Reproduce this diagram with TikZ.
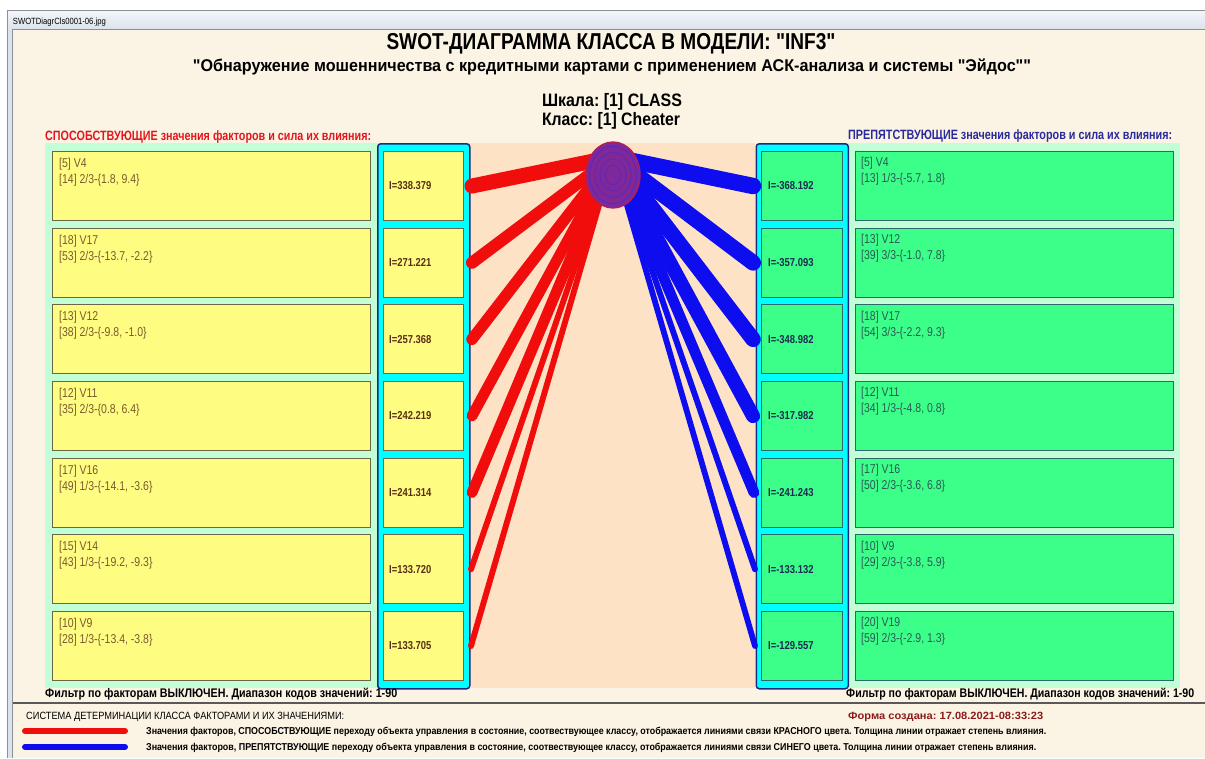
\documentclass[tikz,border=0pt]{standalone}
\usepackage{fontspec}
\setmainfont{Liberation Sans}
\newfontfamily\nar[FakeStretch=0.82]{Liberation Sans}
\usetikzlibrary{shapes.geometric}
\frenchspacing
\definecolor{cream}{HTML}{FBF4E4}
\definecolor{mint}{HTML}{C2FFD6}
\definecolor{peach}{HTML}{FDE2C6}
\definecolor{ylw}{HTML}{FFFC82}
\definecolor{grn}{HTML}{3CFF8A}
\definecolor{cyanc}{HTML}{00FFFF}
\definecolor{navy}{HTML}{1A2A7A}
\definecolor{ybord}{HTML}{6E6446}
\definecolor{gbord}{HTML}{2A6A6A}
\definecolor{ytext}{HTML}{7A5A2E}
\definecolor{yval}{HTML}{5A2E14}
\definecolor{gtext}{HTML}{2A5A54}
\definecolor{gval}{HTML}{1A2A50}
\definecolor{redl}{HTML}{F20D0D}
\definecolor{bluel}{HTML}{0D0DF0}
\definecolor{lblred}{HTML}{E3161E}
\definecolor{lblblue}{HTML}{2A2A9C}
\definecolor{formred}{HTML}{8C1C1C}
\definecolor{ellfill}{HTML}{7A2AA0}
\definecolor{ellbord}{HTML}{B01E5A}
\definecolor{tbtop}{HTML}{F4F6FA}
\definecolor{tbbot}{HTML}{DCE3EC}
\definecolor{frm}{HTML}{8A9098}
\newcommand\fw[2]{\resizebox{#1pt}{\height}{#2}}
\tikzset{
  ybox/.style={draw=ybord, fill=ylw, line width=1, minimum width=318, minimum height=69, anchor=north west, inner sep=0},
  yv/.style={draw=ybord, fill=ylw, line width=1, minimum width=80, minimum height=69, anchor=north west, inner sep=0},
  gbox/.style={draw=gbord, fill=grn, line width=1, minimum width=318, minimum height=69, anchor=north west, inner sep=0},
  gv/.style={draw=gbord, fill=grn, line width=1, minimum width=81, minimum height=69, anchor=north west, inner sep=0},
  colbox/.style={draw=navy, fill=cyanc, line width=1.5, rounded corners=3, anchor=north west, minimum width=92, minimum height=545, inner sep=0},
  ltx/.style={anchor=base west, inner sep=0, text=ytext, font=\nar\fontsize{12.8}{15}\selectfont},
  rtx/.style={anchor=base west, inner sep=0, text=gtext, font=\nar\fontsize{12.8}{15}\selectfont},
  lval/.style={anchor=west, inner sep=0, text=yval, font=\nar\bfseries\fontsize{11.5}{14}\selectfont},
  rval/.style={anchor=west, inner sep=0, text=gval, font=\nar\bfseries\fontsize{11.5}{14}\selectfont},
  rline/.style={draw=redl, line cap=round},
  bline/.style={draw=bluel, line cap=round},
  plain/.style={inner sep=0, anchor=base west},
}
\newcommand\lrow[5]{%
  \node[ybox] (lb#1) at (52,#2) {};
  \node[ltx] (lta#1) at ([xshift=7,yshift=-16.3]lb#1.north west) {#3};
  \node[ltx] (ltb#1) at ([xshift=7,yshift=-32.3]lb#1.north west) {#4};
  \node[yv] (lv#1) at (383,#2) {};
  \node[lval] (lvt#1) at ([xshift=6]lv#1.west) {I=#5};
}
\newcommand\rrow[5]{%
  \node[gv] (rv#1) at (761,#2) {};
  \node[rval] (rvt#1) at ([xshift=7]rv#1.west) {I=#5};
  \node[gbox] (rb#1) at (855,#2) {};
  \node[rtx] (rta#1) at ([xshift=6,yshift=-15.7]rb#1.north west) {#3};
  \node[rtx] (rtb#1) at ([xshift=6,yshift=-31.7]rb#1.north west) {#4};
}
\begin{document}
\begin{tikzpicture}[x=1pt,y=-1pt]
\useasboundingbox (0,0) rectangle (1205,758);
\fill[white] (0,0) rectangle (1205,758);
% window
\fill[cream] (7,29) rectangle (1205,758);
\shade[top color=tbtop, bottom color=tbbot] (7,10) rectangle (1205,29);
\draw[frm, line width=0.8] (7,10.4) -- (1205,10.4);
\draw[frm, line width=0.8] (7,29) -- (1205,29);
\fill[tbbot] (7,29) rectangle (12.5,758);
\draw[frm, line width=1] (7.5,10) -- (7.5,758);
\draw[frm, line width=1] (12.5,29) -- (12.5,758);
\node[plain, font=\fontsize{9}{11}\selectfont] (wtitle) at (12.7,24) {\fw{93}{SWOTDiagrCls0001-06.jpg}};
% header
\node[inner sep=0, anchor=base, font=\nar\bfseries\fontsize{23}{26}\selectfont] (title) at (611,49.3) {\fw{449}{SWOT-ДИАГРАММА КЛАССА В МОДЕЛИ: "INF3"}};
\node[inner sep=0, anchor=base, font=\nar\bfseries\fontsize{17}{20}\selectfont] (subtitle) at (612,71.7) {\fw{838}{"Обнаружение мошенничества с кредитными картами с применением АСК-анализа и системы "Эйдос""}};
\node[inner sep=0, anchor=base, font=\nar\bfseries\fontsize{18}{20}\selectfont] (scale) at (612,106.5) {\fw{140}{Шкала: [1] CLASS}};
\node[inner sep=0, anchor=base, font=\nar\bfseries\fontsize{18}{20}\selectfont] (cls) at (611,125) {\fw{138}{Класс: [1] Cheater}};
\node[plain, text=lblred, font=\nar\bfseries\fontsize{13.5}{16}\selectfont] (lhead) at (45,140.5) {\fw{326}{СПОСОБСТВУЮЩИЕ значения факторов и сила их влияния:}};
\node[plain, text=lblblue, font=\nar\bfseries\fontsize{13.5}{16}\selectfont] (rhead) at (848,139.5) {\fw{324}{ПРЕПЯТСТВУЮЩИЕ значения факторов и сила их влияния:}};
% panels
\fill[mint] (45,143) rectangle (378,688);
\fill[mint] (848,143) rectangle (1180,688);
\fill[peach] (469,143) rectangle (755,688);
\node[colbox] (lcol) at (377,143) {};
\node[colbox] (rcol) at (755.5,143) {};
% rows
\lrow{1}{151}{[5] V4}{[14] 2/3-\{1.8, 9.4\}}{338.379}
\lrow{2}{227.7}{[18] V17}{[53] 2/3-\{-13.7, -2.2\}}{271.221}
\lrow{3}{304.3}{[13] V12}{[38] 2/3-\{-9.8, -1.0\}}{257.368}
\lrow{4}{381}{[12] V11}{[35] 2/3-\{0.8, 6.4\}}{242.219}
\lrow{5}{457.7}{[17] V16}{[49] 1/3-\{-14.1, -3.6\}}{241.314}
\lrow{6}{534.3}{[15] V14}{[43] 1/3-\{-19.2, -9.3\}}{133.720}
\lrow{7}{611}{[10] V9}{[28] 1/3-\{-13.4, -3.8\}}{133.705}
\rrow{1}{151}{[5] V4}{[13] 1/3-\{-5.7, 1.8\}}{-368.192}
\rrow{2}{227.7}{[13] V12}{[39] 3/3-\{-1.0, 7.8\}}{-357.093}
\rrow{3}{304.3}{[18] V17}{[54] 3/3-\{-2.2, 9.3\}}{-348.982}
\rrow{4}{381}{[12] V11}{[34] 1/3-\{-4.8, 0.8\}}{-317.982}
\rrow{5}{457.7}{[17] V16}{[50] 2/3-\{-3.6, 6.8\}}{-241.243}
\rrow{6}{534.3}{[10] V9}{[29] 2/3-\{-3.8, 5.9\}}{-133.132}
\rrow{7}{611}{[20] V19}{[59] 2/3-\{-2.9, 1.3\}}{-129.557}
% connectors
\coordinate (hub) at (613,157);
\draw[rline, line width=15.0] (hub) -- ([xshift=8]lv1.east);
\draw[rline, line width=12.1] (hub) -- ([xshift=8]lv2.east);
\draw[rline, line width=11.4] (hub) -- ([xshift=8]lv3.east);
\draw[rline, line width=10.8] (hub) -- ([xshift=8]lv4.east);
\draw[rline, line width=10.7] (hub) -- ([xshift=8]lv5.east);
\draw[rline, line width=5.9] (hub) -- ([xshift=7]lv6.east);
\draw[rline, line width=5.9] (hub) -- ([xshift=7]lv7.east);
\draw[bline, line width=16.4] (hub) -- ([xshift=-8]rv1.west);
\draw[bline, line width=15.9] (hub) -- ([xshift=-8]rv2.west);
\draw[bline, line width=15.5] (hub) -- ([xshift=-8]rv3.west);
\draw[bline, line width=14.1] (hub) -- ([xshift=-8]rv4.west);
\draw[bline, line width=10.7] (hub) -- ([xshift=-7]rv5.west);
\draw[bline, line width=5.9] (hub) -- ([xshift=-6]rv6.west);
\draw[bline, line width=5.8] (hub) -- ([xshift=-6]rv7.west);
% class ellipse
\node[ellipse, draw=ellbord, fill=ellfill, line width=1.4, minimum width=54, minimum height=66, inner sep=0] (E) at (613,175) {};
\foreach \k/\c in {0.9/bluel,0.8/redl,0.7/bluel,0.6/redl,0.5/bluel,0.4/redl,0.3/bluel,0.2/redl}
  \draw[\c, opacity=0.25, line width=0.6] (E.center) ellipse [x radius=26*\k, y radius=32*\k];
% filters
\node[plain, font=\nar\bfseries\fontsize{12.5}{15}\selectfont] (lfilt) at (45,697.5) {\fw{352}{Фильтр по факторам ВЫКЛЮЧЕН. Диапазон кодов значений: 1-90}};
\node[plain, font=\nar\bfseries\fontsize{12.5}{15}\selectfont] (rfilt) at (846,697.5) {\fw{348}{Фильтр по факторам ВЫКЛЮЧЕН. Диапазон кодов значений: 1-90}};
\draw[black!65, line width=1.2] (12.5,703) -- (1205,703);
% footer
\node[plain, font=\nar\fontsize{10.5}{12}\selectfont] (sys) at (26,719) {\fw{318}{СИСТЕМА ДЕТЕРМИНАЦИИ КЛАССА ФАКТОРАМИ И ИХ ЗНАЧЕНИЯМИ:}};
\node[plain, text=formred, font=\nar\bfseries\fontsize{10.5}{12}\selectfont] (form) at (848,719) {\fw{195}{Форма создана: 17.08.2021-08:33:23}};
\coordinate (lr1) at (25,731);
\coordinate (lr2) at (125,731);
\coordinate (lb1) at (25,747);
\coordinate (lb2) at (125,747);
\draw[rline, line width=6] (lr1) -- (lr2);
\draw[bline, line width=6] (lb1) -- (lb2);
\node[plain, font=\nar\bfseries\fontsize{10}{12}\selectfont] (leg1) at (146,734.5) {\fw{900}{Значения факторов, СПОСОБСТВУЮЩИЕ переходу объекта управления в состояние, соотвествующее классу, отображается линиями связи КРАСНОГО цвета. Толщина линии отражает степень влияния.}};
\node[plain, font=\nar\bfseries\fontsize{10}{12}\selectfont] (leg2) at (146,750.5) {\fw{890}{Значения факторов, ПРЕПЯТСТВУЮЩИЕ переходу объекта управления в состояние, соотвествующее классу, отображается линиями связи СИНЕГО цвета. Толщина линии отражает степень влияния.}};
\end{tikzpicture}
\end{document}
